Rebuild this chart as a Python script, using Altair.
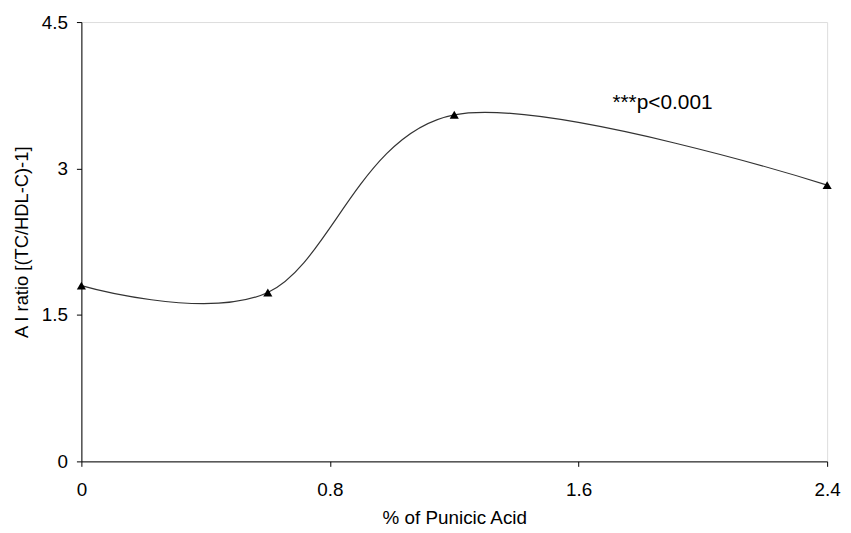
import altair as alt
import pandas as pd

pa = [0, 0.6, 1.2, 2.4]
ai_ratio = [1.80, 1.73, 3.55, 2.83]
x_ticks = [0, 0.8, 1.6, 2.4]
y_ticks = [0, 1.5, 3, 4.5]

df = pd.DataFrame({"x": pa, "y": ai_ratio})
ann = pd.DataFrame({"x": [1.709], "y": [3.672], "t": ["***p<0.001"]})

F = "Liberation Sans"
xenc = alt.X("x:Q", scale=alt.Scale(domain=[0, 2.4], nice=False, zero=False),
             axis=alt.Axis(values=x_ticks, title="% of Punicic Acid", grid=False,
                           labelFontSize=19, titleFontSize=19, titleFontWeight="normal",
                           labelFont=F, titleFont=F, labelColor="black", titleColor="black",
                           domainColor="black", tickColor="black", tickSize=5,
                           labelPadding=14, titlePadding=10, format="~g",
                           labelFlush=False))
yenc = alt.Y("y:Q", scale=alt.Scale(domain=[0, 4.5], nice=False),
             axis=alt.Axis(values=y_ticks, title="A I ratio [(TC/HDL-C)-1]", grid=False,
                           labelFontSize=19, titleFontSize=18.5, titleFontWeight="normal",
                           labelFont=F, titleFont=F, labelColor="black", titleColor="black",
                           domainColor="black", tickColor="black", tickSize=5,
                           labelPadding=9, titlePadding=10, format="~g"))

line = alt.Chart(df).mark_line(interpolate="cardinal", color="#333333", strokeWidth=1.2).encode(x=xenc, y=yenc)
pts = alt.Chart(df).mark_point(shape="triangle-up", filled=True, color="black", size=85, opacity=1).encode(x="x:Q", y="y:Q")
txt = alt.Chart(ann).mark_text(align="left", baseline="middle", font=F, fontSize=21, color="black").encode(
    x="x:Q", y="y:Q", text="t:N")

chart = (line + pts + txt).properties(
    width=752, height=443,
    autosize=alt.AutoSizeParams(type="none"),
    padding={"left": 74, "top": 12, "right": 16, "bottom": 66},
).configure_view(stroke="black", strokeWidth=1).configure(background="white")

chart.save("out.html", embed_options={"renderer": "svg", "actions": False})
